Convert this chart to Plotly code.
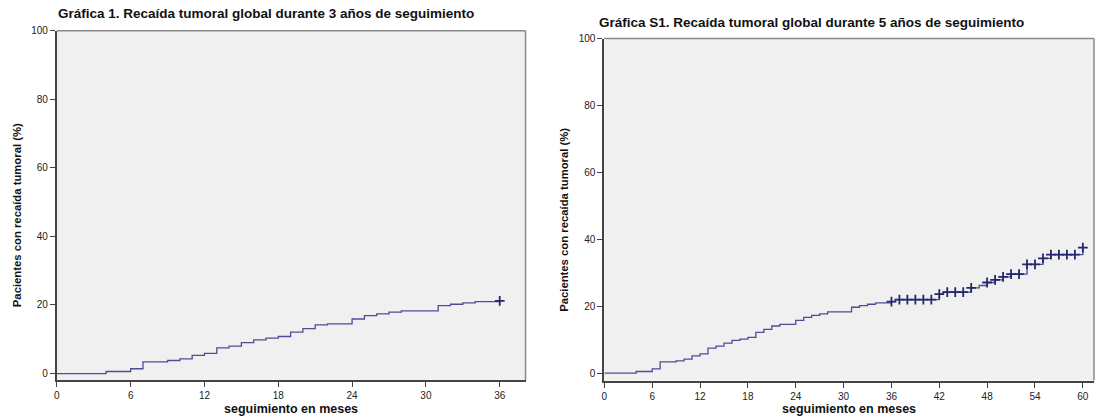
import plotly.graph_objects as go

# ---------------- data ----------------
# Chart 1: 3-year follow-up (step times in months, cumulative relapse %)
left_times = [0, 4, 6, 7, 9, 10, 11, 12, 13, 14, 15, 16, 17, 18, 19, 20, 21, 22,
              24, 25, 26, 27, 28, 31, 32, 33, 34, 36]
left_values = [0, 0.6, 1.4, 3.4, 3.8, 4.3, 5.3, 5.9, 7.5, 8.0, 9.0, 9.8, 10.3, 10.8,
               12.1, 13.1, 14.2, 14.5, 15.9, 16.9, 17.4, 17.9, 18.3, 19.8, 20.2,
               20.6, 21.0, 21.2]
left_censor = [36]

# Chart S1: 5-year follow-up
right_times = [0, 4, 6, 7, 9, 10, 11, 12, 13, 14, 15, 16, 17, 18, 19, 20, 21, 22,
               24, 25, 26, 27, 28, 31, 32, 33, 34, 36, 36.5, 42, 42.5, 46, 47, 48,
               49, 50, 51, 53, 55, 56, 60]
right_values = [0, 0.5, 1.3, 3.4, 3.7, 4.2, 5.2, 5.8, 7.5, 8.1, 9.0, 9.8, 10.2, 10.7,
                12.2, 13.1, 14.1, 14.6, 15.8, 16.7, 17.3, 17.7, 18.3, 19.7, 20.2,
                20.6, 21.0, 21.4, 22.0, 23.6, 24.2, 25.5, 26.2, 27.1, 27.9, 28.8,
                29.6, 32.5, 34.3, 35.4, 37.5]
right_censor = [36, 37, 38, 39, 40, 41, 42, 43, 44, 45, 46, 48, 49, 50, 51, 52,
                53, 54, 55, 56, 57, 58, 59, 60]

left_title = "Gráfica 1. Recaída tumoral global durante 3 años de seguimiento"
right_title = "Gráfica S1. Recaída tumoral global durante 5 años de seguimiento"
x_title = "seguimiento en meses"
y_title = "Pacientes con recaída tumoral (%)"
y_ticks = [0, 20, 40, 60, 80, 100]
left_xticks = [0, 6, 12, 18, 24, 30, 36]
right_xticks = [0, 6, 12, 18, 24, 30, 36, 42, 48, 54, 60]


def step_value(times, values, t):
    v = values[0]
    for ti, vi in zip(times, values):
        if ti <= t:
            v = vi
    return v


W, H = 1098, 418
LINE = "#4d4d96"
MARK = "#26266e"
PLOT_BG = "#f0f0f0"

fig = go.Figure()

for i, (times, values, cens) in enumerate([(left_times, left_values, left_censor),
                                           (right_times, right_values, right_censor)]):
    xa = "x" if i == 0 else "x2"
    ya = "y" if i == 0 else "y2"
    fig.add_trace(go.Scatter(x=times, y=values, mode="lines", line_shape="hv",
                             line=dict(color=LINE, width=1.3),
                             xaxis=xa, yaxis=ya, showlegend=False, hoverinfo="skip"))
    fig.add_trace(go.Scatter(x=cens, y=[step_value(times, values, t) for t in cens],
                             mode="markers",
                             marker=dict(symbol="cross-thin", size=7,
                                         line=dict(color=MARK, width=1.8)),
                             xaxis=xa, yaxis=ya, showlegend=False, hoverinfo="skip"))

tickfont = dict(family="Liberation Sans Narrow, Liberation Sans, Arial", size=10, color="#222")

# pixel geometry
L = dict(x0=54, x1=524, y0=25, y1=379.5, xmax=38.1, ymin=-1.9)
R = dict(x0=603, x1=1094, y0=33, y1=380, xmax=61.4, ymin=-2.2)

def xdom(g):
    return [g["x0"] / W, g["x1"] / W]

def ydom(g):
    return [1 - g["y1"] / H, 1 - g["y0"] / H]

axis_common = dict(showgrid=False, zeroline=False, showline=True, linecolor="#444",
                   linewidth=2, ticks="outside", ticklen=5, tickwidth=1,
                   tickcolor="#444", tickfont=tickfont, mirror=False)

fig.update_layout(
    width=W, height=H, margin=dict(l=0, r=0, t=0, b=0),
    paper_bgcolor="white", plot_bgcolor=PLOT_BG,
    xaxis=dict(domain=xdom(L), range=[0, L["xmax"]], tickvals=left_xticks,
               anchor="y", **axis_common),
    yaxis=dict(domain=ydom(L), range=[L["ymin"], 100], tickvals=y_ticks,
               anchor="x", **axis_common),
    xaxis2=dict(domain=xdom(R), range=[0, R["xmax"]], tickvals=right_xticks,
                anchor="y2", **axis_common),
    yaxis2=dict(domain=ydom(R), range=[R["ymin"], 100], tickvals=y_ticks,
                anchor="x2", **axis_common),
)

# light frame on top/right
for xr, yr in [("x domain", "y domain"), ("x2 domain", "y2 domain")]:
    fig.add_shape(type="line", xref=xr, yref=yr, x0=0, x1=1, y0=1, y1=1,
                  line=dict(color="#8a8a8a", width=1.5))
    fig.add_shape(type="line", xref=xr, yref=yr, x0=1, x1=1, y0=0, y1=1,
                  line=dict(color="#8a8a8a", width=1.5))

# titles
ttl_font = dict(family="Liberation Sans, Arial", size=13.5, color="#111")
fig.add_annotation(text="<b>" + left_title + "</b>", xref="paper", yref="paper",
                   x=53 / W, y=1 - 8 / H, xanchor="left", yanchor="middle",
                   showarrow=False, font=ttl_font)
fig.add_annotation(text="<b>" + right_title + "</b>", xref="paper", yref="paper",
                   x=596 / W, y=1 - 17 / H, xanchor="left", yanchor="middle",
                   showarrow=False, font=ttl_font)

# axis titles
xt_font = dict(family="Liberation Sans, Arial", size=12.5, color="#111")
yt_font = dict(family="Liberation Sans, Arial", size=11.3, color="#111")
for g, yx in [(L, 14), (R, 563)]:
    fig.add_annotation(text="<b>" + x_title + "</b>", xref="paper", yref="paper",
                       x=(g["x0"] + g["x1"]) / 2 / W, y=1 - 409 / H,
                       xanchor="center", yanchor="middle", showarrow=False,
                       font=xt_font)
    fig.add_annotation(text="<b>" + y_title + "</b>", xref="paper", yref="paper",
                       x=yx / W, y=1 - ((g["y0"] + g["y1"]) / 2 + 10) / H,
                       xanchor="center", yanchor="middle", showarrow=False,
                       textangle=-90, font=yt_font)

fig.write_html("out.html", config={"displayModeBar": False},
               post_script="document.body.style.margin='0';document.body.style.overflow='hidden';")
